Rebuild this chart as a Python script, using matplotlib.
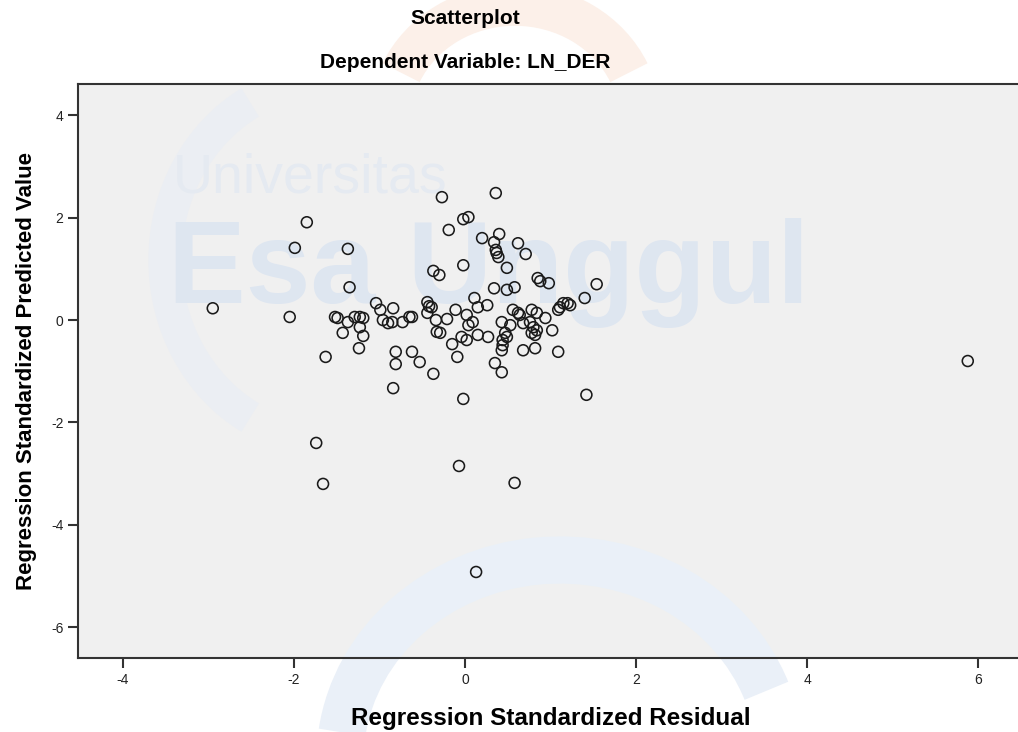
import matplotlib
matplotlib.use("Agg")
import matplotlib.pyplot as plt
from matplotlib.patches import Arc
import numpy as np

# Pixel-read data converted to values: residual (x), predicted (y)
px_x = [213, 290, 307, 295, 348, 350, 316, 323, 326, 335, 338, 343, 348, 355, 360, 363, 360, 363, 359,
        376, 380, 393, 383, 388, 392, 403, 409, 412, 396, 396, 412, 420, 433, 393,
        442, 449, 433, 439, 427, 429, 432, 427, 436, 437, 440, 447, 456, 452, 457, 462, 463, 459,
        463, 463, 468, 467, 468, 473, 474, 478, 478, 467, 487, 488, 482, 496, 494, 496, 497, 498,
        499, 494, 507, 507, 515, 518, 526, 502, 513, 518, 510, 505, 507, 503, 503, 502, 495, 502,
        523, 532, 537, 533, 537, 532, 535, 545, 552, 558, 523, 535, 538, 540, 549, 563, 558, 560,
        570, 585, 597, 586, 515, 476, 968, 568, 520, 530]
px_y = [308, 317, 222, 248, 249, 287, 443, 484, 357, 317, 318, 333, 322, 317, 317, 318, 327, 336, 348,
        303, 310, 308, 320, 323, 322, 322, 317, 317, 352, 364, 352, 362, 374, 388,
        197, 230, 271, 275, 302, 306, 307, 313, 320, 332, 333, 319, 310, 344, 357, 337, 399, 466,
        265, 219, 217, 315, 325, 322, 298, 307, 335, 340, 305, 337, 238, 193, 242, 250, 253, 257,
        234, 288, 268, 290, 287, 243, 254, 322, 310, 313, 325, 333, 337, 340, 345, 350, 363, 372,
        323, 310, 313, 327, 330, 333, 335, 318, 330, 352, 350, 348, 278, 281, 283, 303, 310, 307,
        305, 298, 284, 395, 483, 572, 361, 303, 315, 322]

residual = [round((x - 465) / 85.5, 2) for x in px_x]
predicted = [round((320 - y) / 51.2, 2) for y in px_y]

x_ticks = [-4, -2, 0, 2, 4, 6]
y_ticks = [4, 2, 0, -2, -4, -6]

plt.rcParams['font.family'] = ['Liberation Sans', 'DejaVu Sans']
plt.rcParams['axes.unicode_minus'] = False

W, H = 1018, 732
fig = plt.figure(figsize=(W / 100, H / 100), dpi=100)
fig.patch.set_facecolor('white')

ax_w = 945 / W
ax = fig.add_axes([78 / W, 74 / H, ax_w, 574 / H])
ax.set_facecolor('#F0F0F0')


def fx(p):
    return p / W


def fy(p):
    return 1 - p / H


# faint watermark arcs (figure coords)
arcs = [
    ((515, 120), 250, 230, 30, 150, '#FCF0E9', 30),
    ((560, 760), 440, 400, 25, 170, '#EAF0F8', 34),
    ((330, 260), 330, 360, 110, 250, '#EBEEF3', 24),
]
for (cx, cy), w, h, t1, t2, col, lw in arcs:
    a = Arc((fx(cx), fy(cy)), w / W, h / H, theta1=t1, theta2=t2, color=col, lw=lw,
            transform=fig.transFigure, clip_on=False, zorder=0.5)
    ax.add_artist(a)

ax.text(0.10, 0.835, 'Universitas', transform=ax.transAxes, fontsize=40, color='#E5EAF1',
        ha='left', va='center', zorder=0.6)
ax.text(0.095, 0.67, 'Esa Unggul', transform=ax.transAxes, fontsize=84, color='#DEE6F0',
        fontweight='bold', ha='left', va='center', zorder=0.6)

ax.scatter(residual, predicted, s=62, facecolors='none', edgecolors='#1a1a1a',
           linewidths=1.15, zorder=3)

ax.set_xlim(-4.526, 6.526)
ax.set_ylim(-6.60, 4.61)
ax.set_xticks(x_ticks)
ax.set_yticks(y_ticks)
ax.tick_params(axis='both', direction='out', length=7, width=1.5, color='#333333',
               labelsize=10, labelcolor='#222222')
for s in ax.spines.values():
    s.set_color('#333333')
    s.set_linewidth(1.5)

ax.set_xlabel('Regression Standardized Residual', fontsize=17.5, fontweight='bold', labelpad=15)
ax.set_ylabel('Regression Standardized Predicted Value', fontsize=16, fontweight='bold', labelpad=10)

fig.text(fx(465), fy(18), 'Scatterplot', fontsize=15, fontweight='bold',
         ha='center', va='center')
fig.text(fx(465), fy(63), 'Dependent Variable: LN_DER', fontsize=15, fontweight='bold',
         ha='center', va='center')

fig.savefig('out.png', dpi=100)
